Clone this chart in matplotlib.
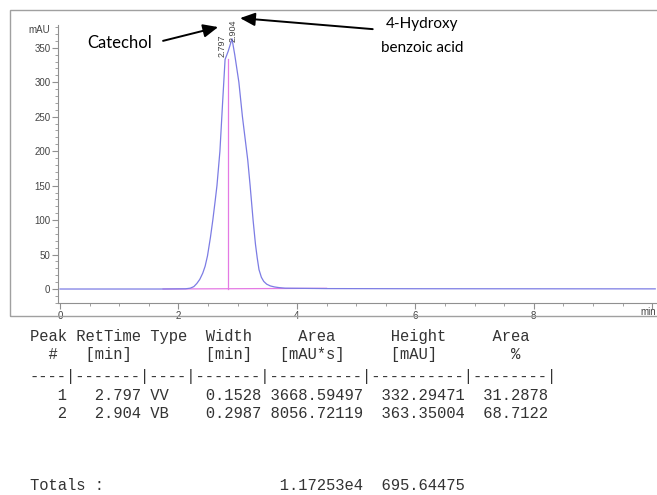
import matplotlib.pyplot as plt
from matplotlib.patches import Rectangle
from matplotlib.ticker import MultipleLocator

# chromatogram trace (min, mAU)
time = [0.0, 1.0, 1.7, 2.12, 2.2, 2.26, 2.31, 2.36, 2.41, 2.45, 2.49, 2.54,
        2.58, 2.62, 2.65, 2.70, 2.745, 2.787, 2.84, 2.904, 2.95, 3.02, 3.08,
        3.13, 3.17, 3.21, 3.26, 3.30, 3.33, 3.36, 3.40, 3.44, 3.49, 3.55,
        3.62, 3.70, 3.80, 4.5, 6.0, 8.0, 10.05]
signal = [0.0, 0.0, 0.0, 0.3, 1.2, 3.5, 8, 14, 23, 33, 48, 75,
          100, 128, 150, 200, 270, 333, 345, 363, 340, 300, 250,
          215, 187, 150, 100, 65, 45, 28, 17, 11, 7, 4.5,
          3, 2, 1.2, 0.6, 0.4, 0.3, 0.2]

peak_rt = [2.797, 2.904]
peak_label_y = [336, 358]
dropline_t = 2.83
dropline_top = 333
baseline_t = [1.74, 4.5]
baseline_y = [0.0, 1.0]

# annotation labels
compound_names = ["Catechol", "4-Hydroxy", "benzoic acid"]

# integration report table
header1 = "Peak RetTime Type  Width     Area      Height     Area"
header2 = "  #   [min]        [min]   [mAU*s]     [mAU]        %"
dashes = "----|-------|----|-------|----------|----------|--------|"
rows = ["   1   2.797 VV    0.1528 3668.59497  332.29471  31.2878",
        "   2   2.904 VB    0.2987 8056.72119  363.35004  68.7122"]
totals = "Totals :                   1.17253e4  695.64475"

W, H = 657, 495
fig = plt.figure(figsize=(W / 100, H / 100), dpi=100)
fig.patch.set_facecolor('white')

# grey frame round the chromatogram
fig.add_artist(Rectangle((10 / W, 1 - 316 / H), 1.0, (316 - 10) / H,
                         transform=fig.transFigure, fill=False,
                         ec='#a0a0a0', lw=1.0))

ax = fig.add_axes([58 / W, 1 - 303 / H, (W - 58) / W, (303 - 25) / H])
blue = '#7c7ce4'
pink = '#e47ae4'
ax.plot(time, signal, color=blue, lw=0.9, zorder=3)
ax.plot(baseline_t, baseline_y, color=pink, lw=0.9, zorder=2)
ax.plot([dropline_t, dropline_t], [0.5, dropline_top], color=pink, lw=0.9, zorder=2)

ax.set_xlim(-0.034, 10.08)
ax.set_ylim(-20.3, 383)

for s in ['top', 'right']:
    ax.spines[s].set_visible(False)
for s in ['left', 'bottom']:
    ax.spines[s].set_color('#909090')
    ax.spines[s].set_linewidth(0.8)

ax.set_xticks([0, 2, 4, 6, 8, 10])
ax.set_xticklabels(['0', '2', '4', '6', '8', ''])
ax.xaxis.set_minor_locator(MultipleLocator(0.5))
ax.set_yticks([0, 50, 100, 150, 200, 250, 300, 350])
ax.yaxis.set_minor_locator(MultipleLocator(10))
ax.tick_params(which='major', length=4, width=0.8, color='#909090',
               labelsize=7, labelcolor='#444444', pad=1.5)
ax.tick_params(which='minor', length=2, width=0.6, color='#909090')
for lab in ax.get_xticklabels() + ax.get_yticklabels():
    lab.set_fontfamily('Liberation Sans')

ax.text(-0.013, 0.982, "mAU", transform=ax.transAxes, ha='right', va='center',
        fontsize=7, color='#444444', family='Liberation Sans')
ax.text(0.985, -0.032, "min", transform=ax.transAxes, ha='center', va='center',
        fontsize=7, color='#444444', family='Liberation Sans')

# peak labels
ax.text(peak_rt[0] - 0.065, peak_label_y[0], f"{peak_rt[0]:.3f}", rotation=90,
        ha='center', va='bottom', fontsize=6.5, color='#444444',
        family='Liberation Sans')
ax.text(peak_rt[1] + 0.02, peak_label_y[1], f"{peak_rt[1]:.3f}", rotation=90,
        ha='center', va='bottom', fontsize=6.5, color='#444444',
        family='Liberation Sans', clip_on=False)

# compound annotations
ax.text(1.01, 357, compound_names[0], ha='center', va='center', fontsize=12,
        family='Lato', color='black')
ax.text(6.11, 385, compound_names[1], ha='center', va='center', fontsize=11,
        family='Lato', color='black', clip_on=False)
ax.text(6.11, 349, compound_names[2], ha='center', va='center', fontsize=11,
        family='Lato', color='black', clip_on=False)
arrow = dict(arrowstyle='-|>,head_length=0.9,head_width=0.4', color='black',
             lw=1.4, shrinkA=0, shrinkB=0)
ax.annotate('', xy=(2.67, 380), xytext=(1.74, 360), arrowprops=arrow,
            annotation_clip=False)
ax.annotate('', xy=(3.04, 393), xytext=(5.28, 377), arrowprops=arrow,
            annotation_clip=False)

# report table
mono = dict(family='Liberation Mono', fontsize=11.2, color='#333333',
            va='center', ha='left')
x0 = 30 / W
lines = [(header1, 337), (header2, 354), (dashes, 376),
         (rows[0], 396), (rows[1], 413), (totals, 486)]
for txt, ypix in lines:
    fig.text(x0, 1 - ypix / H, txt, **mono)

plt.savefig('out.png', dpi=100)
